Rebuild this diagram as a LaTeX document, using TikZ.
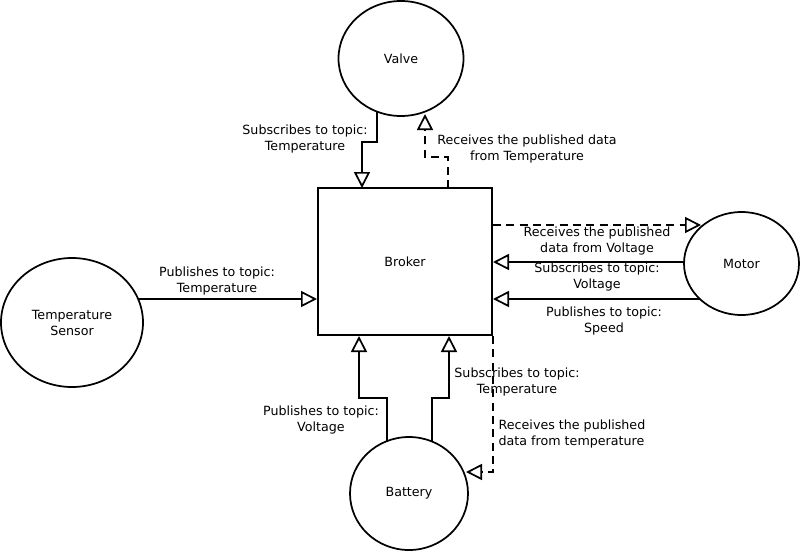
\documentclass[tikz,border=0pt]{standalone}
\usepackage{fontspec}
\setmainfont{DejaVu Sans}
\usetikzlibrary{shapes.geometric,arrows.meta}
\begin{document}
\begin{tikzpicture}[x=0.75pt,y=-0.75pt,
  every node/.style={font=\fontsize{9.5}{12}\selectfont},
  ell/.style={draw,ellipse,line width=1.3pt,inner sep=0pt},
  lbl/.style={align=center,inner sep=0pt},
  arr/.style={line width=1.5pt,-{Triangle[open,length=12pt,width=12pt,line width=1.3pt]}},
  darr/.style={arr,dash pattern=on 6pt off 4pt},
]
\useasboundingbox (0,0) rectangle (802,553);
% nodes
\node[ell,minimum width=125*0.75pt,minimum height=115*0.75pt] (valve) at (401,58.5) {Valve};
\node[draw,line width=1.5pt,minimum width=174*0.75pt,minimum height=147*0.75pt,inner sep=0pt] (broker) at (405,261.5) {Broker};
\node[ell,minimum width=115*0.75pt,minimum height=103*0.75pt] (motor) at (741.5,263.5) {Motor};
\node[ell,minimum width=142*0.75pt,minimum height=129*0.75pt,align=center] (sensor) at (72,322.5) {Temperature\\Sensor};
\node[ell,minimum width=118*0.75pt,minimum height=113*0.75pt] (battery) at (409,493.5) {Battery};
% border points
\coordinate (v1) at (377,112);
\coordinate (v2) at (425,114);
\coordinate (b1) at (362,188);
\coordinate (b2) at (448,188);
\coordinate (m1) at (701,225);
\coordinate (m2) at (684,262);
\coordinate (m3) at (700,299);
\coordinate (s1) at (138,299);
\coordinate (r1) at (387,441);
\coordinate (r2) at (432,441);
\coordinate (r3) at (466,472);
% connectors
\draw[arr] (v1) -- (377,142) -| (b1);
\draw[darr] (b2) -- (448,157) -| (v2);
\draw[darr] (broker.east |- m1) -- (m1);
\draw[arr] (m2) -- (broker.east |- m2);
\draw[arr] (m3) -- (broker.east |- m3);
\draw[arr] (s1) -- (broker.west |- s1);
\draw[arr] (r1) -- (387,398) -| (broker.south -| 359,0);
\draw[arr] (r2) -- (432,398) -| (broker.south -| 449,0);
\draw[darr] (broker.south east) |- (r3);
% labels
\node[lbl] (l1) at (305,139) {Subscribes to topic:\\Temperature};
\node[lbl] (l2) at (527,149.5) {Receives the published data\\from Temperature};
\node[lbl] (l3) at (597,241.5) {Receives the published\\data from Voltage};
\node[lbl] (l4) at (597,277.5) {Subscribes to topic:\\Voltage};
\node[lbl] (l5) at (604,320.5) {Publishes to topic:\\Speed};
\node[lbl] (l6) at (217,280.5) {Publishes to topic:\\Temperature};
\node[lbl] (l7) at (321,419.5) {Publishes to topic:\\Voltage};
\node[lbl] (l8) at (517,381.5) {Subscribes to topic:\\Temperature};
\node[lbl,align=left] (l9) at (572,433.5) {Receives the published\\data from temperature};
\end{tikzpicture}
\end{document}
